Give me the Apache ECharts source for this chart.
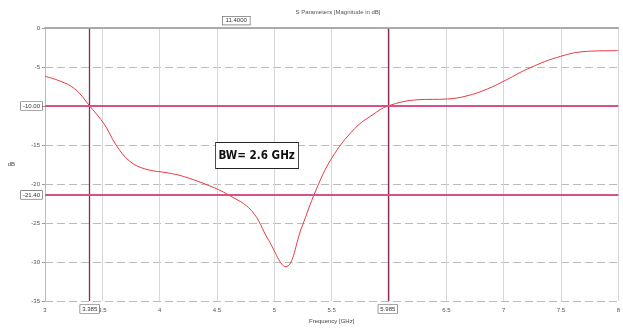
<!DOCTYPE html>
<html>
<head>
<meta charset="utf-8">
<script src="https://cdn.jsdelivr.net/npm/echarts@6/dist/echarts.min.js"></script>
<style>
  html, body { margin: 0; padding: 0; background: #fff; }
  #chart { width: 623px; height: 329px; }
</style>
</head>
<body>
<div id="chart"></div>
<script>
// S11 curve (GHz, dB)
var freq = [3.0, 3.13, 3.26, 3.39, 3.52, 3.62, 3.74, 3.88, 4.08, 4.2, 4.43, 4.6, 4.8, 4.95, 5.1, 5.24, 5.36, 5.5, 5.7, 5.86, 5.99, 6.25, 6.51, 6.68, 6.86, 7.03, 7.2, 7.46, 7.72, 8.0];
var s11 = [-6.2, -6.8, -7.8, -10.0, -12.4, -15.0, -17.1, -18.1, -18.6, -19.0, -20.2, -21.4, -23.4, -27.2, -30.6, -25.5, -20.9, -16.7, -12.9, -11.1, -10.0, -9.2, -9.1, -8.7, -7.8, -6.6, -5.3, -3.8, -3.0, -2.9];

// marker lines
var markerX = [3.39, 5.99];
var markerXLabels = ['3.385', '5.985'];
var markerY = [-10, -21.4];
var markerYLabels = ['-10.00', '-21.40'];
var bwText = 'BW= 2.6 GHz';

var chart = echarts.init(document.getElementById('chart'));

var boxLabel = {
  show: true,
  fontSize: 6,
  color: '#333',
  backgroundColor: '#fff',
  borderColor: '#555',
  borderWidth: 0.6,
  padding: [1, 2]
};

var vLines = markerX.map(function (x, i) {
  return {
    xAxis: x,
    label: Object.assign({}, boxLabel, { position: 'start', distance: 4, formatter: markerXLabels[i] })
  };
});
var hLines = markerY.map(function (y, i) {
  return {
    yAxis: y,
    lineStyle: { color: '#d6508c', width: 2.2, type: 'solid' },
    label: Object.assign({}, boxLabel, { position: 'start', distance: 3, formatter: markerYLabels[i] })
  };
});

chart.setOption({
  animation: false,
  title: {
    text: 'S Parameters [Magnitude in dB]',
    left: 333,
    top: 4,
    textAlign: 'center',
    textStyle: { fontSize: 6, color: '#555', fontWeight: 'normal' }
  },
  graphic: [{
    type: 'text',
    left: 222,
    top: 16,
    style: {
      text: '11.4000',
      fontSize: 6,
      fill: '#333',
      backgroundColor: '#fff',
      borderColor: '#555',
      borderWidth: 0.6,
      padding: [1, 3]
    }
  }, {
    type: 'text',
    x: 216,
    y: 143,
    scaleX: 0.8,
    z: 10,
    style: {
      text: bwText,
      font: 'bold 13px "DejaVu Sans", sans-serif',
      fill: '#111',
      backgroundColor: '#fff',
      borderColor: '#222',
      borderWidth: 1,
      padding: [6, 4, 6, 3]
    }
  }],
  grid: { left: 45, right: 1, top: 28, bottom: 24 },
  xAxis: {
    type: 'value',
    min: 3,
    max: 8,
    interval: 0.5,
    name: 'Frequency [GHz]',
    nameLocation: 'middle',
    nameGap: 17,
    nameTextStyle: { fontSize: 6, color: '#444' },
    axisLine: { lineStyle: { color: '#999', width: 1.5 } },
    axisTick: { show: false },
    axisLabel: { fontSize: 6, color: '#555', margin: 6 },
    splitLine: { show: true, lineStyle: { color: '#d8d8d8', width: 1 } }
  },
  yAxis: {
    type: 'value',
    min: -35,
    max: 0,
    interval: 5,
    name: 'dB',
    nameLocation: 'middle',
    nameGap: 30,
    nameRotate: 0,
    nameTextStyle: { fontSize: 6, color: '#444' },
    axisLine: { show: true, lineStyle: { color: '#bbb' } },
    axisTick: { show: true, length: 3, lineStyle: { color: '#999' } },
    axisLabel: { fontSize: 6, color: '#555', margin: 5 },
    splitLine: { show: true, lineStyle: { color: '#bbb', width: 1, type: [8, 4] } }
  },
  series: [{
    type: 'line',
    data: freq.map(function (f, i) { return [f, s11[i]]; }),
    smooth: 0.4,
    showSymbol: false,
    lineStyle: { color: '#e83a40', width: 1 },
    markLine: {
      silent: true,
      symbol: 'none',
      lineStyle: { color: '#8a2a55', width: 1.3, type: 'solid' },
      data: vLines.concat(hLines)
    }
  }, {
    // top frame line
    type: 'line',
    data: [],
    markLine: {
      silent: true,
      symbol: 'none',
      label: { show: false },
      lineStyle: { color: '#aaa', width: 1.5, type: 'solid' },
      data: [{ yAxis: 0 }]
    }
  }]
});
</script>
</body>
</html>
